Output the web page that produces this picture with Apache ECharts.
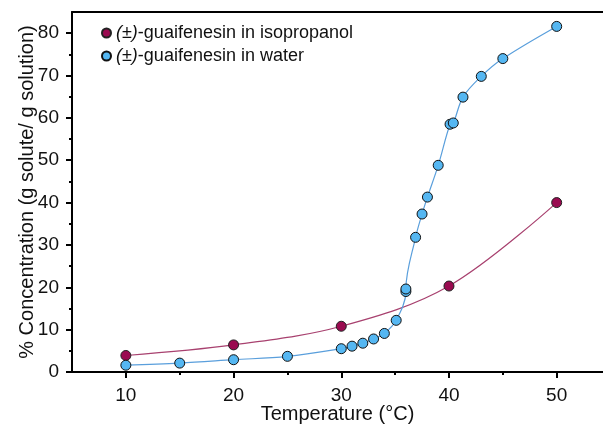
<!DOCTYPE html>
<html>
<head>
<meta charset="utf-8">
<script src="https://cdn.jsdelivr.net/npm/echarts@6/dist/echarts.min.js"></script>
<style>
html,body{margin:0;padding:0;background:#fff;}
#chart{width:603px;height:429px;}
</style>
</head>
<body>
<div id="chart"></div>
<script>
// ---- data ----
var seriesNames = ['(±)-guaifenesin in isopropanol', '(±)-guaifenesin in water'];
var isoTemp = [10, 20, 30, 40, 50];
var isoConc = [3.9, 6.4, 10.8, 20.3, 40.0];
var waterTemp = [10, 15, 20, 25, 30, 31, 32, 33, 34, 35.1, 36, 36, 36.9, 37.5, 38, 39, 40.1, 40.4, 41.3, 43, 45, 50];
var waterConc = [1.6, 2.1, 2.9, 3.7, 5.5, 6.1, 6.8, 7.8, 9.1, 12.2, 19.0, 19.6, 31.8, 37.3, 41.3, 48.8, 58.5, 58.8, 64.9, 69.8, 74.0, 81.6];
var xMajorTicks = [10, 20, 30, 40, 50];
var xMinorTicks = [15, 25, 35, 45];
var yMajorTicks = [0, 10, 20, 30, 40, 50, 60, 70, 80];
var yMinorTicks = [5, 15, 25, 35, 45, 55, 65, 75];
var xTitle = 'Temperature (°C)';
var yTitle = '% Concentration (g solute/ g solution)';

function zip(a, b) { return a.map(function (v, i) { return [v, b[i]]; }); }

var FONT = 'Liberation Sans, Arial, sans-serif';
var chart = echarts.init(document.getElementById('chart'), null, {renderer: 'canvas'});
var axisLineStyle = {color: '#000', width: 2};
var X_MIN = 5, X_MAX = 54.3, Y_MIN = 0, Y_MAX = 85;

chart.setOption({
  animation: false,
  backgroundColor: '#fff',
  grid: {left: 72, top: 12, right: 0, height: 360.5, containLabel: false},
  legend: {
    orient: 'vertical',
    left: 101, top: 23,
    padding: 0,
    itemWidth: 9, itemHeight: 9,
    itemGap: 3,
    icon: 'circle',
    data: seriesNames,
    formatter: function (n) { return '{i|(±)}' + n.slice(3); },
    textStyle: {
      fontFamily: FONT, fontSize: 18, color: '#111', lineHeight: 20,
      rich: {i: {fontStyle: 'italic', fontFamily: FONT, fontSize: 18, color: '#111'}}
    }
  },
  xAxis: [
    {
      type: 'value', position: 'bottom', min: X_MIN, max: X_MAX,
      axisLine: {show: true, onZero: false, lineStyle: axisLineStyle},
      axisTick: {show: true, customValues: xMajorTicks, length: 6, lineStyle: {color: '#000', width: 2}},
      axisLabel: {customValues: xMajorTicks, fontFamily: FONT, fontSize: 19, color: '#111', margin: 14},
      splitLine: {show: false},
      name: xTitle, nameLocation: 'middle', nameGap: 32, nameMoveOverlap: false,
      nameTextStyle: {fontFamily: FONT, fontSize: 20, color: '#111'}
    },
    {
      type: 'value', position: 'bottom', min: X_MIN, max: X_MAX,
      axisLine: {show: false},
      axisTick: {show: true, customValues: xMinorTicks, length: 3, lineStyle: {color: '#000', width: 2}},
      axisLabel: {show: false},
      splitLine: {show: false}
    },
    {
      type: 'value', position: 'top', min: X_MIN, max: X_MAX,
      axisLine: {show: true, onZero: false, lineStyle: axisLineStyle},
      axisTick: {show: false}, axisLabel: {show: false}, splitLine: {show: false}
    }
  ],
  yAxis: [
    {
      type: 'value', position: 'left', min: Y_MIN, max: Y_MAX,
      axisLine: {show: true, onZero: false, lineStyle: axisLineStyle},
      axisTick: {show: true, customValues: yMajorTicks, length: 6, lineStyle: {color: '#000', width: 2}},
      axisLabel: {customValues: yMajorTicks, fontFamily: FONT, fontSize: 19, color: '#111', margin: 13},
      splitLine: {show: false},
      name: yTitle, nameLocation: 'middle', nameGap: 35, nameRotate: 90, nameMoveOverlap: false,
      nameTextStyle: {fontFamily: FONT, fontSize: 20, color: '#111', verticalAlign: 'bottom'}
    },
    {
      type: 'value', position: 'left', min: Y_MIN, max: Y_MAX,
      axisLine: {show: false},
      axisTick: {show: true, customValues: yMinorTicks, length: 3, lineStyle: {color: '#000', width: 2}},
      axisLabel: {show: false},
      splitLine: {show: false}
    }
  ],
  series: [
    {
      name: seriesNames[0], type: 'line', xAxisIndex: 0, yAxisIndex: 0,
      data: zip(isoTemp, isoConc),
      smooth: 0.35,
      symbol: 'circle', symbolSize: 10,
      lineStyle: {color: '#a8416f', width: 1.2},
      itemStyle: {color: '#9a0a50', borderColor: '#222', borderWidth: 1},
      z: 3
    },
    {
      name: seriesNames[1], type: 'line', xAxisIndex: 0, yAxisIndex: 0,
      data: zip(waterTemp, waterConc),
      smooth: 0.35,
      symbol: 'circle', symbolSize: 10,
      lineStyle: {color: '#5a9fdc', width: 1.2},
      itemStyle: {color: '#55b7f2', borderColor: '#111', borderWidth: 1},
      z: 4
    }
  ]
});
</script>
</body>
</html>
